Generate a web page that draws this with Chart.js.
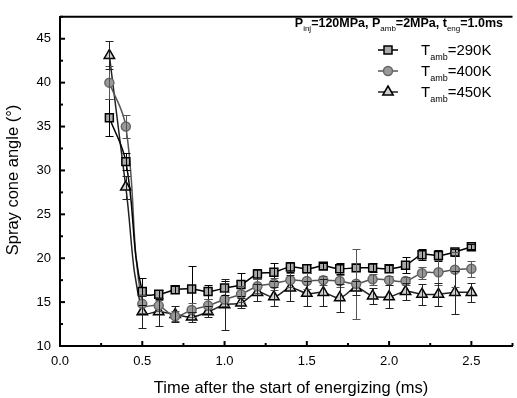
<!DOCTYPE html>
<html>
<head>
<meta charset="utf-8">
<script src="https://cdn.jsdelivr.net/npm/chart.js@4"></script>
<style>
html, body { margin: 0; padding: 0; background: #fff; overflow: hidden; }
#wrap { width: 520px; height: 398px; }
</style>
</head>
<body>
<div id="wrap"><canvas id="chart" width="520" height="398"></canvas></div>
<script>
// time after start of energizing (ms)
const times = [0.3, 0.4, 0.5, 0.6, 0.7, 0.8, 0.9, 1.0, 1.1, 1.2, 1.3, 1.4, 1.5, 1.6, 1.7, 1.8, 1.9, 2.0, 2.1, 2.2, 2.3, 2.4, 2.5];

// spray cone angle (deg) and error bars, per ambient temperature
const angle290 = [36.0, 31.0, 16.2, 15.9, 16.4, 16.5, 16.2, 16.6, 17.0, 18.2, 18.4, 19.0, 18.8, 19.1, 18.8, 18.9, 18.9, 18.8, 19.2, 20.4, 20.3, 20.7, 21.3];
const err290   = [2.1, 1.0, 1.5, 0.5, 0.4, 2.6, 0.8, 0.8, 1.3, 0.6, 1.0, 0.6, 0.5, 0.3, 0.6, 0.4, 0.5, 0.4, 0.9, 0.6, 0.6, 0.4, 0.3];
const angle400 = [40.0, 35.0, 14.8, 14.6, 13.4, 14.1, 14.6, 15.3, 15.9, 16.8, 17.1, 17.5, 17.4, 17.5, 17.4, 17.1, 17.6, 17.5, 17.4, 18.3, 18.4, 18.7, 18.8];
const err400   = [1.9, 1.3, 1.0, 0.6, 0.6, 0.8, 0.8, 0.8, 0.9, 0.8, 0.7, 0.8, 0.9, 0.5, 0.7, 4.0, 0.6, 0.5, 0.5, 0.7, 1.4, 2.0, 0.9];
const angle450 = [43.1, 28.1, 13.9, 13.9, 13.6, 13.3, 13.9, 14.7, 14.9, 16.1, 15.6, 16.6, 16.0, 16.1, 15.5, 16.6, 15.7, 15.6, 16.2, 15.9, 15.9, 16.1, 16.1];
const err450   = [1.6, 1.3, 1.8, 1.6, 0.9, 0.6, 0.6, 2.9, 0.6, 1.0, 1.1, 1.5, 1.4, 1.5, 1.6, 0.8, 0.9, 1.3, 1.0, 1.2, 1.3, 2.4, 1.1];

const seriesTemps = ['290K', '400K', '450K'];
const seriesErrors = [err290, err400, err450];

const FONT = '"Liberation Sans", Arial, sans-serif';

function toPoints(vals) {
    return times.map((t, i) => ({ x: t, y: vals[i] }));
}

function drawRuns(ctx, runs, x, y, size, subSize, weight) {
    let cx = x;
    runs.forEach(([txt, kind]) => {
        if (kind === 's') {
            ctx.font = `${subSize}px ${FONT}`;
            ctx.fillText(txt, cx, y + size * 0.3);
        } else {
            ctx.font = `${weight} ${size}px ${FONT}`;
            ctx.fillText(txt, cx, y);
        }
        cx += ctx.measureText(txt).width;
    });
    return cx;
}

function measureRuns(ctx, runs, size, subSize, weight) {
    let w = 0;
    runs.forEach(([txt, kind]) => {
        ctx.font = kind === 's' ? `${subSize}px ${FONT}` : `${weight} ${size}px ${FONT}`;
        w += ctx.measureText(txt).width;
    });
    return w;
}

function drawMarker(ctx, ds, x, y) {
    ctx.save();
    ctx.fillStyle = ds.pointBackgroundColor;
    ctx.strokeStyle = ds.pointBorderColor;
    ctx.lineWidth = 1.5;
    ctx.beginPath();
    if (ds.pointStyle === 'rect') {
        ctx.rect(x - 4, y - 4, 8, 8);
    } else if (ds.pointStyle === 'circle') {
        ctx.arc(x, y, 4.5, 0, Math.PI * 2);
    } else {
        ctx.moveTo(x, y - 6);
        ctx.lineTo(x + 5.2, y + 3);
        ctx.lineTo(x - 5.2, y + 3);
        ctx.closePath();
    }
    ctx.fill();
    ctx.stroke();
    ctx.restore();
}

const errorBars = {
    id: 'errorBars',
    afterDatasetsDraw(chart) {
        const { ctx, scales: { x, y } } = chart;
        chart.data.datasets.forEach((ds, i) => {
            const errs = seriesErrors[i];
            ctx.save();
            ctx.strokeStyle = ds.borderColor;
            ctx.lineWidth = 1;
            ds.data.forEach((p, j) => {
                const px = Math.round(x.getPixelForValue(p.x)) + 0.5;
                const top = Math.round(y.getPixelForValue(p.y + errs[j])) + 0.5;
                const bot = Math.round(y.getPixelForValue(p.y - errs[j])) + 0.5;
                ctx.beginPath();
                ctx.moveTo(px, top); ctx.lineTo(px, bot);
                ctx.moveTo(px - 4, top); ctx.lineTo(px + 4, top);
                ctx.moveTo(px - 4, bot); ctx.lineTo(px + 4, bot);
                ctx.stroke();
            });
            ctx.restore();
        });
    }
};

const frame = {
    id: 'frame',
    afterDraw(chart) {
        const { ctx, chartArea: a, scales: { x, y } } = chart;
        ctx.save();
        ctx.strokeStyle = '#000';
        // top border
        ctx.lineWidth = 2;
        ctx.beginPath();
        ctx.moveTo(a.left, a.top);
        ctx.lineTo(a.right, a.top);
        ctx.stroke();
        // inward ticks
        for (let v = 0; v <= 2.75 + 1e-6; v += 0.25) {
            const px = x.getPixelForValue(v);
            const len = Math.abs(v / 0.5 - Math.round(v / 0.5)) < 1e-6 ? 5 : 3;
            ctx.beginPath();
            ctx.moveTo(px, a.bottom);
            ctx.lineTo(px, a.bottom - len);
            ctx.stroke();
        }
        for (let v = 10; v <= 47.5 + 1e-6; v += 2.5) {
            const py = y.getPixelForValue(v);
            const len = v % 5 === 0 ? 5 : 3;
            ctx.beginPath();
            ctx.moveTo(a.left, py);
            ctx.lineTo(a.left + len, py);
            ctx.stroke();
        }
        ctx.restore();

        // axis titles
        ctx.save();
        ctx.fillStyle = '#000';
        ctx.font = `16.5px ${FONT}`;
        ctx.textAlign = 'center';
        ctx.textBaseline = 'middle';
        ctx.fillText('Time after the start of energizing (ms)', 291, 388);
        ctx.translate(13, 180);
        ctx.rotate(-Math.PI / 2);
        ctx.fillText('Spray cone angle (°)', 0, 0);
        ctx.restore();

        // condition title
        ctx.save();
        ctx.fillStyle = '#000';
        ctx.textBaseline = 'alphabetic';
        const titleRuns = [['P', 'n'], ['inj', 's'], ['=120MPa, P', 'n'], ['amb', 's'], ['=2MPa, t', 'n'], ['eng', 's'], ['=1.0ms', 'n']];
        const tw = measureRuns(ctx, titleRuns, 12.5, 8, 'bold');
        drawRuns(ctx, titleRuns, 503 - tw, 27, 12.5, 8, 'bold');

        // legend
        chart.data.datasets.forEach((ds, i) => {
            const cy = 50 + i * 21;
            ctx.strokeStyle = ds.borderColor;
            ctx.lineWidth = 1.5;
            ctx.beginPath();
            ctx.moveTo(378, cy);
            ctx.lineTo(398, cy);
            ctx.stroke();
            drawMarker(ctx, ds, 388, cy);
            ctx.fillStyle = '#000';
            drawRuns(ctx, [['T', 'n'], ['amb', 's'], ['=' + seriesTemps[i], 'n']], 421, cy + 5, 15, 9, 'normal');
        });
        ctx.restore();
    }
};

new Chart(document.getElementById('chart').getContext('2d'), {
    type: 'line',
    data: {
        datasets: [
            {
                label: 'T_amb=290K', data: toPoints(angle290),
                borderColor: '#000', borderWidth: 1.5, tension: 0.4,
                pointStyle: 'rect', pointRadius: 5.6, pointBorderWidth: 1.5,
                pointBackgroundColor: '#a9a9a9', pointBorderColor: '#000'
            },
            {
                label: 'T_amb=400K', data: toPoints(angle400),
                borderColor: '#555', borderWidth: 1.5, tension: 0.4,
                pointStyle: 'circle', pointRadius: 4.5, pointBorderWidth: 1.5,
                pointBackgroundColor: '#999', pointBorderColor: '#666'
            },
            {
                label: 'T_amb=450K', data: toPoints(angle450),
                borderColor: '#222', borderWidth: 1.5, tension: 0.4,
                pointStyle: 'triangle', pointRadius: 6, pointBorderWidth: 1.5,
                pointBackgroundColor: '#d0d0d0', pointBorderColor: '#000'
            }
        ]
    },
    options: {
        responsive: false,
        animation: false,
        events: [],
        layout: { padding: { top: 10, right: 0, left: 0, bottom: 0 } },
        plugins: { legend: { display: false }, tooltip: { enabled: false } },
        scales: {
            x: {
                type: 'linear', min: 0, max: 2.75,
                afterFit: s => { s.height = 52; },
                grid: { display: false, drawTicks: false },
                border: { display: true, color: '#000', width: 2 },
                ticks: {
                    stepSize: 0.5, includeBounds: false, padding: 8, color: '#000',
                    font: { family: FONT, size: 13 }, maxRotation: 0,
                    callback: v => v.toFixed(1)
                }
            },
            y: {
                min: 10, max: 47.5,
                afterFit: s => { s.width = 60; },
                grid: { display: false, drawTicks: false },
                border: { display: true, color: '#000', width: 2 },
                ticks: {
                    stepSize: 5, includeBounds: false, padding: 9, color: '#000',
                    font: { family: FONT, size: 13 }
                }
            }
        }
    },
    plugins: [errorBars, frame]
});
</script>
</body>
</html>
